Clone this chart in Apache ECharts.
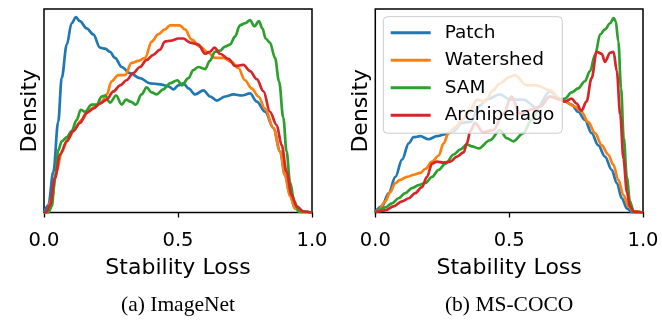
<!DOCTYPE html>
<html>
<head>
<meta charset="utf-8">
<script src="https://cdn.jsdelivr.net/npm/echarts@6/dist/echarts.min.js"></script>
<style>
  html, body { margin: 0; padding: 0; background: #fff; }
  #chart { width: 662px; height: 322px; }
</style>
</head>
<body>
<div id="chart"></div>
<script>
// ---- Data (x = stability loss, y = density) ----
const seriesNames = ['Patch', 'Watershed', 'SAM', 'Archipelago'];
const seriesColors = ['#1f77b4', '#ff7f0e', '#2ca02c', '#d62728'];
const xTicks = [0.0, 0.5, 1.0];
const panelTitles = ['(a) ImageNet', '(b) MS-COCO'];

// (a) ImageNet
const imagenetPatch = [[0,0.0],[0.016,0.07],[0.035,0.40],[0.053,0.89],[0.066,1.32],[0.085,1.65],[0.103,1.86],[0.119,1.92],[0.134,1.88],[0.159,1.81],[0.184,1.75],[0.209,1.62],[0.228,1.61],[0.246,1.58],[0.265,1.52],[0.290,1.43],[0.321,1.37],[0.358,1.32],[0.396,1.27],[0.433,1.26],[0.464,1.24],[0.483,1.21],[0.501,1.25],[0.520,1.27],[0.539,1.22],[0.564,1.16],[0.595,1.20],[0.620,1.14],[0.645,1.10],[0.676,1.14],[0.707,1.16],[0.738,1.15],[0.769,1.17],[0.794,1.09],[0.825,0.99],[0.856,0.83],[0.881,0.60],[0.899,0.37],[0.918,0.17],[0.937,0.04],[0.955,0.01],[1.0,0]];
const imagenetWatershed = [[0,0],[0.01,0.0],[0.029,0.14],[0.047,0.40],[0.066,0.60],[0.091,0.73],[0.116,0.83],[0.141,0.91],[0.165,0.99],[0.190,1.04],[0.215,1.09],[0.234,1.16],[0.252,1.29],[0.277,1.35],[0.302,1.35],[0.327,1.47],[0.352,1.49],[0.377,1.52],[0.402,1.68],[0.426,1.75],[0.451,1.80],[0.470,1.84],[0.495,1.84],[0.507,1.84],[0.526,1.80],[0.551,1.70],[0.582,1.63],[0.613,1.57],[0.638,1.52],[0.669,1.52],[0.700,1.48],[0.725,1.42],[0.750,1.30],[0.775,1.22],[0.800,1.14],[0.825,1.02],[0.856,0.83],[0.881,0.60],[0.899,0.37],[0.918,0.16],[0.937,0.04],[0.96,0],[1.0,0]];
const imagenetSAM = [[0,0],[0.016,0],[0.029,0.06],[0.041,0.34],[0.053,0.61],[0.066,0.70],[0.085,0.74],[0.103,0.80],[0.122,0.91],[0.137,1.01],[0.153,0.99],[0.178,1.06],[0.197,1.06],[0.215,1.14],[0.228,1.15],[0.246,1.08],[0.269,1.15],[0.290,1.06],[0.306,1.11],[0.323,1.09],[0.343,1.06],[0.364,1.16],[0.383,1.23],[0.402,1.18],[0.420,1.16],[0.445,1.21],[0.470,1.27],[0.498,1.30],[0.514,1.25],[0.539,1.32],[0.557,1.40],[0.576,1.43],[0.601,1.41],[0.619,1.49],[0.638,1.58],[0.657,1.59],[0.675,1.63],[0.694,1.65],[0.713,1.73],[0.731,1.84],[0.750,1.86],[0.769,1.89],[0.785,1.83],[0.802,1.88],[0.815,1.81],[0.827,1.71],[0.843,1.67],[0.862,1.52],[0.877,1.29],[0.893,0.93],[0.905,0.60],[0.918,0.30],[0.934,0.11],[0.951,0.01],[1.0,0]];
const imagenetArchipelago = [[0,0],[0.007,0],[0.022,0.07],[0.041,0.34],[0.060,0.57],[0.085,0.70],[0.109,0.80],[0.134,0.88],[0.159,0.98],[0.184,1.02],[0.209,1.07],[0.234,1.11],[0.259,1.19],[0.284,1.25],[0.308,1.30],[0.333,1.37],[0.358,1.43],[0.383,1.50],[0.408,1.55],[0.433,1.60],[0.451,1.68],[0.476,1.69],[0.501,1.71],[0.520,1.71],[0.545,1.67],[0.576,1.65],[0.601,1.56],[0.619,1.58],[0.636,1.62],[0.657,1.56],[0.688,1.51],[0.713,1.44],[0.744,1.45],[0.769,1.39],[0.794,1.31],[0.819,1.19],[0.843,0.99],[0.868,0.86],[0.887,0.66],[0.905,0.40],[0.924,0.17],[0.943,0.06],[0.968,0.01],[1.0,0]];

// (b) MS-COCO
const cocoPatch = [[0,0.01],[0.025,0.06],[0.05,0.19],[0.075,0.35],[0.10,0.52],[0.125,0.68],[0.143,0.74],[0.168,0.75],[0.199,0.72],[0.230,0.75],[0.262,0.77],[0.293,0.80],[0.324,0.88],[0.355,0.89],[0.39,1.05],[0.416,1.11],[0.466,1.16],[0.503,1.11],[0.553,1.11],[0.603,1.03],[0.653,1.19],[0.690,1.11],[0.709,1.09],[0.733,1.06],[0.758,0.99],[0.783,0.91],[0.808,0.78],[0.833,0.66],[0.858,0.55],[0.883,0.42],[0.902,0.29],[0.921,0.14],[0.94,0.04],[0.96,0],[1.0,0]];
const cocoWatershed = [[0,0],[0.012,0.02],[0.037,0.11],[0.056,0.20],[0.075,0.29],[0.093,0.32],[0.118,0.35],[0.143,0.37],[0.168,0.39],[0.187,0.43],[0.212,0.50],[0.237,0.56],[0.255,0.68],[0.274,0.78],[0.299,0.84],[0.324,0.91],[0.355,1.01],[0.38,1.11],[0.41,1.09],[0.44,1.20],[0.466,1.27],[0.50,1.33],[0.522,1.35],[0.565,1.25],[0.603,1.25],[0.653,1.20],[0.690,1.12],[0.709,1.09],[0.746,1.04],[0.770,0.99],[0.795,0.89],[0.821,0.78],[0.846,0.66],[0.870,0.57],[0.889,0.47],[0.908,0.32],[0.927,0.17],[0.946,0.06],[0.965,0.01],[1.0,0]];
const cocoSAM = [[0,0],[0.006,0.01],[0.037,0.05],[0.062,0.09],[0.087,0.14],[0.112,0.19],[0.137,0.24],[0.162,0.27],[0.187,0.29],[0.212,0.35],[0.237,0.42],[0.262,0.48],[0.293,0.57],[0.318,0.62],[0.342,0.67],[0.361,0.65],[0.386,0.63],[0.428,0.71],[0.466,0.81],[0.491,0.73],[0.516,0.70],[0.553,0.78],[0.584,0.91],[0.615,1.04],[0.653,1.14],[0.690,1.11],[0.709,1.12],[0.733,1.18],[0.758,1.22],[0.783,1.29],[0.802,1.39],[0.821,1.55],[0.840,1.75],[0.858,1.80],[0.877,1.86],[0.890,1.91],[0.898,1.88],[0.908,1.68],[0.918,1.22],[0.928,0.73],[0.940,0.34],[0.951,0.11],[0.965,0.01],[1.0,0]];
const cocoArchipelago = [[0,0],[0.006,0.01],[0.037,0.02],[0.068,0.06],[0.10,0.11],[0.125,0.14],[0.149,0.19],[0.174,0.25],[0.193,0.35],[0.212,0.48],[0.230,0.50],[0.255,0.49],[0.280,0.50],[0.305,0.55],[0.330,0.59],[0.342,0.68],[0.355,0.80],[0.372,0.88],[0.403,0.79],[0.441,0.81],[0.478,0.97],[0.509,1.14],[0.540,0.97],[0.578,1.01],[0.615,1.04],[0.653,1.14],[0.690,1.11],[0.709,1.09],[0.733,1.12],[0.752,1.07],[0.770,1.00],[0.789,1.09],[0.808,1.32],[0.827,1.58],[0.846,1.56],[0.858,1.48],[0.877,1.57],[0.890,1.58],[0.902,1.39],[0.915,0.96],[0.927,0.53],[0.940,0.20],[0.951,0.06],[0.965,0.01],[1.0,0]];

const panels = [
  [imagenetPatch, imagenetWatershed, imagenetSAM, imagenetArchipelago],
  [cocoPatch, cocoWatershed, cocoSAM, cocoArchipelago]
];

// ---- Layout ----
const grids = [
  { left: 44, right: 350, top: 9, bottom: 109.5 },
  { left: 375.3, right: 19, top: 9, bottom: 109.5 }
];
const sansFont = 'DejaVu Sans';

const chart = echarts.init(document.getElementById('chart'), null, { renderer: 'canvas' });

const xAxes = grids.map((g, i) => ({
  type: 'value', gridIndex: i, min: xTicks[0], max: xTicks[xTicks.length - 1],
  interval: xTicks[1] - xTicks[0],
  name: 'Stability Loss', nameLocation: 'middle', nameGap: 45,
  nameTextStyle: { fontFamily: sansFont, fontSize: 22, color: '#000' },
  axisLine: { show: false },
  axisTick: { show: true, length: 5, lineStyle: { color: '#000', width: 1.3 } },
  axisLabel: { show: true, margin: 18, fontFamily: sansFont, fontSize: 19.5, color: '#000',
    formatter: v => v.toFixed(1), showMinLabel: true, showMaxLabel: true },
  splitLine: { show: false }
}));
const yAxes = grids.map((g, i) => ({
  type: 'value', gridIndex: i, min: 0, max: 2,
  name: 'Density', nameLocation: 'middle', nameGap: 3,
  nameTextStyle: { fontFamily: sansFont, fontSize: 22, color: '#000' },
  axisLine: { show: false }, axisTick: { show: false }, axisLabel: { show: false },
  splitLine: { show: false }
}));

const series = [];
panels.forEach((panel, pi) => {
  panel.forEach((data, si) => {
    series.push({
      type: 'line', name: seriesNames[si], xAxisIndex: pi, yAxisIndex: pi,
      data: data, showSymbol: false, symbol: 'none', smooth: 0.35, smoothMonotone: 'x',
      lineStyle: { color: seriesColors[si], width: 2.7 }, itemStyle: { color: seriesColors[si] },
      z: 2 + si, animation: false
    });
  });
});

chart.setOption({
  animation: false,
  backgroundColor: '#fff',
  grid: grids.map(g => Object.assign({ show: true, borderColor: '#000', borderWidth: 1.5, backgroundColor: 'transparent' }, g)),
  xAxis: xAxes,
  yAxis: yAxes,
  legend: {
    show: true, orient: 'vertical', left: 383.3, top: 16.7,
    data: seriesNames, icon: 'rect', itemWidth: 40, itemHeight: 3, itemGap: 5.5,
    padding: [5, 8, 7, 7.4],
    backgroundColor: 'rgba(255,255,255,0.8)', borderColor: '#cccccc', borderWidth: 1, borderRadius: 4,
    textStyle: { fontFamily: sansFont, fontSize: 18.5, color: '#000', lineHeight: 22, padding: [0, 0, 0, 9] },
    selectedMode: false, z: 20
  },
  graphic: panelTitles.map((t, i) => ({
    type: 'text', z: 30,
    x: i === 0 ? (44 + 312) / 2 : (375.3 + 643) / 2, y: 305,
    style: { text: t, fontFamily: 'Liberation Serif', fontSize: 21.5, fill: '#000', align: 'center', verticalAlign: 'middle' }
  })),
  series: series
});
</script>
</body>
</html>
